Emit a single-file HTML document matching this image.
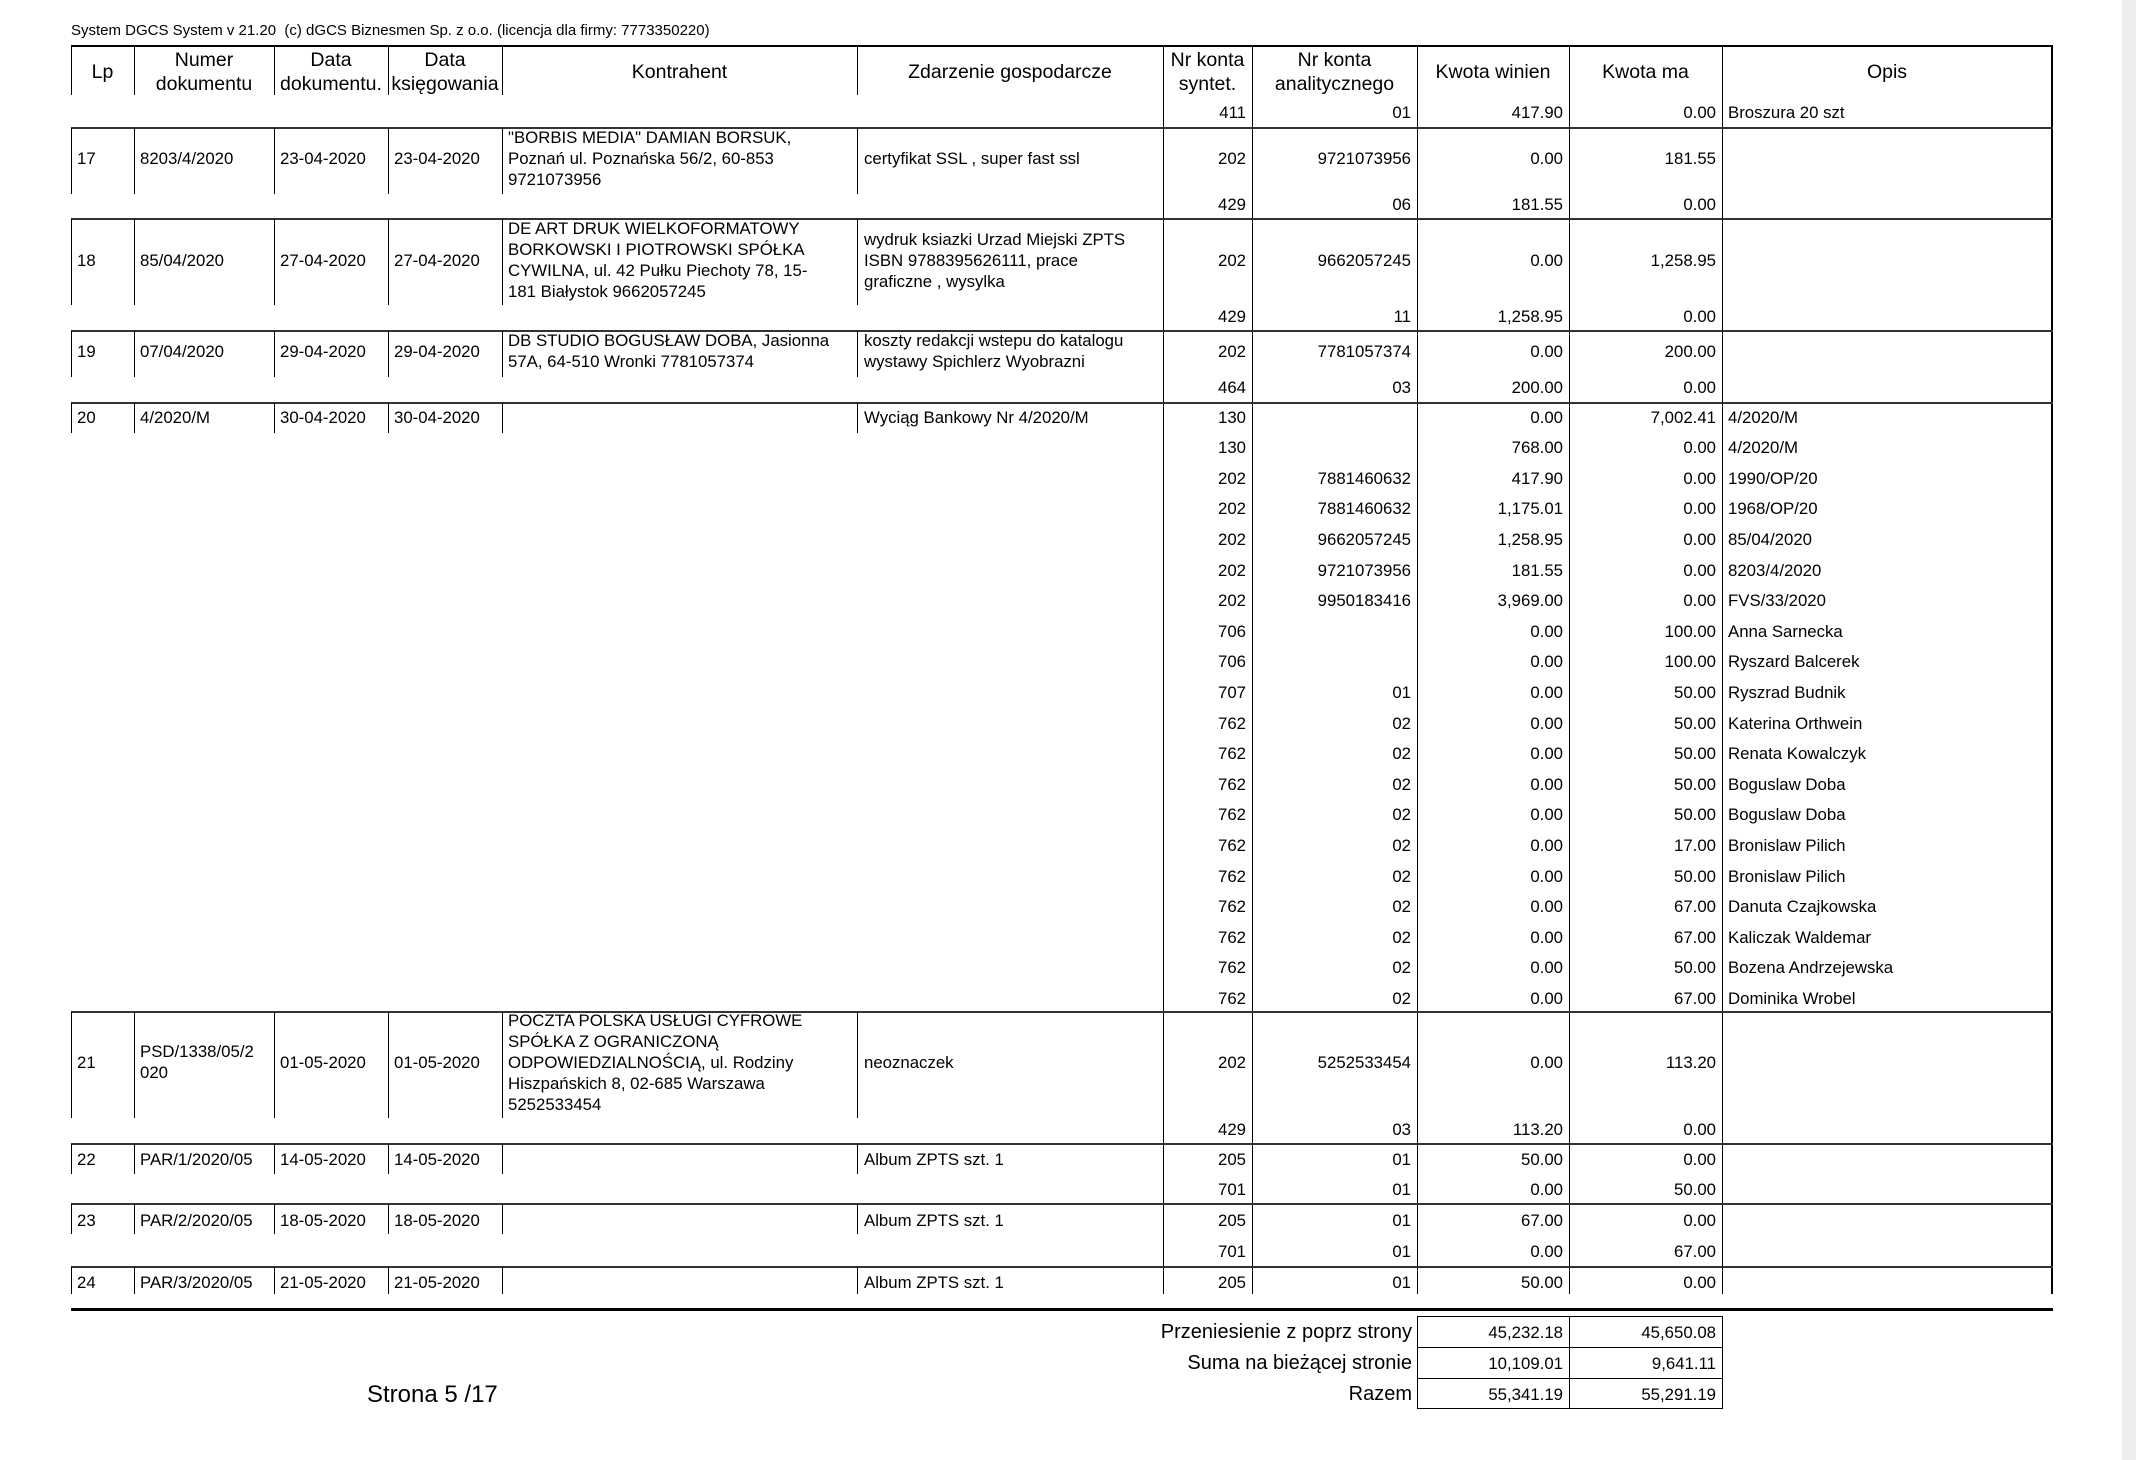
<!DOCTYPE html>
<html><head><meta charset="utf-8"><style>
html,body{margin:0;padding:0;background:#fff;}
#p{position:relative;width:2136px;height:1460px;overflow:hidden;background:#fff;font-family:"Liberation Sans",Arial,sans-serif;color:#000;}
.t{position:absolute;font-size:16.8px;line-height:21px;white-space:nowrap;}
.h{position:absolute;font-size:19.5px;line-height:24px;text-align:center;white-space:nowrap;}
.l{position:absolute;background:#000;}
</style></head><body><div id="p">
<div class="t" style="left:71px;top:20px;font-size:15px;">System DGCS System v 21.20&nbsp; (c) dGCS Biznesmen Sp. z o.o. (licencja dla firmy: 7773350220)</div>
<div style="position:absolute;left:2122px;top:0;width:14px;height:1460px;background:#eeeeee"></div>
</div>
<script>
var P=document.getElementById('p');
function L(x,y,w,h,c){var d=document.createElement('div');d.className='l';d.style.cssText='left:'+x+'px;top:'+y+'px;width:'+w+'px;height:'+h+'px;'+(c?'background:'+c:'');P.appendChild(d);}
function T(txt,x,yc,align,cls,fs){var d=document.createElement('div');d.className=cls||'t';var lines=txt.split('\n');var lh=cls=='h'?24:21;if(fs){d.style.fontSize=fs+'px';}
d.innerHTML=lines.join('<br>');var top=yc-lines.length*lh/2;
if(align=='r'){d.style.right=(2136-x)+'px';d.style.textAlign='right';}else if(align=='c'){d.style.left=(x-200)+'px';d.style.width='400px';}else d.style.left=x+'px';
d.style.top=top+'px';P.appendChild(d);}
L(71,45,1982,2);
[71,134,274,388,502,857].forEach(function(x){L(x,46,1,49);});
[1163,1252,1417,1569,1722,2052].forEach(function(x){L(x,46,1,1248);});
L(2051,46,2,1248);
var H=[['Lp',71,134],['Numer\ndokumentu',134,274],['Data\ndokumentu.',274,388],['Data\nksięgowania',388,502],['Kontrahent',502,857],['Zdarzenie gospodarcze',857,1163],['Nr konta\nsyntet.',1163,1252],['Nr konta\nanalitycznego',1252,1417],['Kwota winien',1417,1569],['Kwota ma',1569,1722],['Opis',1722,2052]];
H.forEach(function(h){T(h[0],(h[1]+h[2])/2,72,'c','h');});
var seps=[[128,194],[219,305],[331,377],[403,433],[1012,1118],[1144,1174],[1204,1234],[1267,1294]];
seps.forEach(function(s){L(71,s[0]-1,1982,2,'#333');[71,134,274,388,502,857].forEach(function(x){L(x,s[0],1,s[1]-s[0]);});});
L(71,1308,1982,3);
function R(y,a,b,c,d,e){T(a,1246,y,'r');if(b)T(b,1411,y,'r');T(c,1563,y,'r');T(d,1716,y,'r');if(e)T(e,1728,y);}
function M(y,lp,nr,d1,d2){T(lp,77,y);T(nr,140,y);T(d1,280,y);T(d2,394,y);}
R(112,'411','01','417.90','0.00','Broszura 20 szt');
M(158,'17','8203/4/2020','23-04-2020','23-04-2020');T('"BORBIS MEDIA" DAMIAN BORSUK,\nPoznań ul. Poznańska 56/2, 60-853\n9721073956',508,158);T('certyfikat SSL , super fast ssl',864,158);
R(158,'202','9721073956','0.00','181.55');R(204,'429','06','181.55','0.00');
M(260,'18','85/04/2020','27-04-2020','27-04-2020');T('DE ART DRUK WIELKOFORMATOWY\nBORKOWSKI I PIOTROWSKI SPÓŁKA\nCYWILNA, ul. 42 Pułku Piechoty 78, 15-\n181 Białystok 9662057245',508,260);T('wydruk ksiazki Urzad Miejski ZPTS\nISBN 9788395626111, prace\ngraficzne , wysylka',864,260);
R(260,'202','9662057245','0.00','1,258.95');R(316,'429','11','1,258.95','0.00');
M(351,'19','07/04/2020','29-04-2020','29-04-2020');T('DB STUDIO BOGUSŁAW DOBA, Jasionna\n57A, 64-510 Wronki 7781057374',508,351);T('koszty redakcji wstepu do katalogu\nwystawy Spichlerz Wyobrazni',864,351);
R(351,'202','7781057374','0.00','200.00');R(387,'464','03','200.00','0.00');
M(417,'20','4/2020/M','30-04-2020','30-04-2020');T('Wyciąg Bankowy Nr 4/2020/M',864,417);
var r20=[['130','','0.00','7,002.41','4/2020/M'],['130','','768.00','0.00','4/2020/M'],['202','7881460632','417.90','0.00','1990/OP/20'],['202','7881460632','1,175.01','0.00','1968/OP/20'],['202','9662057245','1,258.95','0.00','85/04/2020'],['202','9721073956','181.55','0.00','8203/4/2020'],['202','9950183416','3,969.00','0.00','FVS/33/2020'],['706','','0.00','100.00','Anna Sarnecka'],['706','','0.00','100.00','Ryszard Balcerek'],['707','01','0.00','50.00','Ryszrad Budnik'],['762','02','0.00','50.00','Katerina Orthwein'],['762','02','0.00','50.00','Renata Kowalczyk'],['762','02','0.00','50.00','Boguslaw Doba'],['762','02','0.00','50.00','Boguslaw Doba'],['762','02','0.00','17.00','Bronislaw Pilich'],['762','02','0.00','50.00','Bronislaw Pilich'],['762','02','0.00','67.00','Danuta Czajkowska'],['762','02','0.00','67.00','Kaliczak Waldemar'],['762','02','0.00','50.00','Bozena Andrzejewska'],['762','02','0.00','67.00','Dominika Wrobel']];
r20.forEach(function(r,i){R(417+i*30.6,r[0],r[1],r[2],r[3],r[4]);});
M(1062,'21','','01-05-2020','01-05-2020');T('PSD/1338/05/2\n020',140,1062);T('POCZTA POLSKA USŁUGI CYFROWE\nSPÓŁKA Z OGRANICZONĄ\nODPOWIEDZIALNOŚCIĄ, ul. Rodziny\nHiszpańskich 8, 02-685 Warszawa\n5252533454',508,1062);T('neoznaczek',864,1062);
R(1062,'202','5252533454','0.00','113.20');R(1129,'429','03','113.20','0.00');
M(1159,'22','PAR/1/2020/05','14-05-2020','14-05-2020');T('Album ZPTS szt. 1',864,1159);R(1159,'205','01','50.00','0.00');R(1189,'701','01','0.00','50.00');
M(1220,'23','PAR/2/2020/05','18-05-2020','18-05-2020');T('Album ZPTS szt. 1',864,1220);R(1220,'205','01','67.00','0.00');R(1251,'701','01','0.00','67.00');
M(1282,'24','PAR/3/2020/05','21-05-2020','21-05-2020');T('Album ZPTS szt. 1',864,1282);R(1282,'205','01','50.00','0.00');
[1316,1347,1378,1408].forEach(function(y){L(1417,y,306,1);});
[1417,1569,1722].forEach(function(x){L(x,1316,1,93);});
var tot=[['Przeniesienie z poprz strony','45,232.18','45,650.08'],['Suma na bieżącej stronie','10,109.01','9,641.11'],['Razem','55,341.19','55,291.19']];
tot.forEach(function(t,i){var y=1332+i*31;T(t[0],1412,y,'r','t',20);T(t[1],1563,y,'r');T(t[2],1716,y,'r');});
T('Strona 5 /17',367,1394,'l','t',24);
</script></body></html>
